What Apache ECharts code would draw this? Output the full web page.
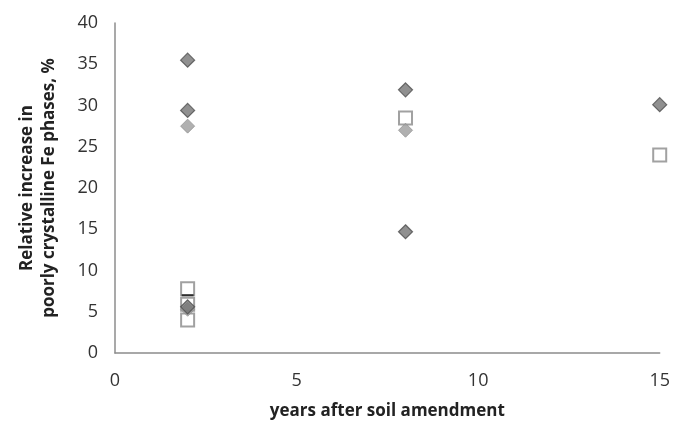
<!DOCTYPE html>
<html>
<head>
<meta charset="utf-8">
<script src="https://cdn.jsdelivr.net/npm/echarts@6/dist/echarts.min.js"></script>
<style>
  html, body { margin: 0; padding: 0; background: #fff; }
  #chart { width: 673px; height: 425px; }
</style>
</head>
<body>
<div id="chart"></div>
<script>
// data: [years, relative increase %]
var darkDiamonds = [[2, 35.5], [2, 29.4], [2, 5.6], [8, 31.9], [8, 14.7], [15, 30.1]];
var lightDiamonds = [[2, 27.5], [8, 27.0], [2, 5.3]];
var openSquares = [[2, 7.8], [2, 5.9], [2, 4.0], [8, 28.5], [15, 24.0]];
var dashes = [[2, 7.0]];

var xTicks = [0, 5, 10, 15];
var yTicks = [0, 5, 10, 15, 20, 25, 30, 35, 40];

var chart = echarts.init(document.getElementById('chart'));

var font = '"Open Sans", "Noto Sans", sans-serif';

var option = {
  animation: false,
  grid: { left: 115, right: 11, top: 23, bottom: 69 },
  xAxis: {
    type: 'value',
    min: xTicks[0],
    max: xTicks[xTicks.length - 1],
    interval: 5,
    name: 'years after soil amendment',
    nameLocation: 'middle',
    nameGap: 50,
    nameTextStyle: { fontFamily: font, fontWeight: 'bold', fontSize: 17, color: '#222' },
    axisLine: { lineStyle: { color: '#8c8c8c', width: 1.5 } },
    axisTick: { show: false },
    splitLine: { show: false },
    axisLabel: { fontFamily: font, fontSize: 18, color: '#333', margin: 19 }
  },
  yAxis: {
    type: 'value',
    min: yTicks[0],
    max: yTicks[yTicks.length - 1],
    interval: 5,
    name: 'Relative increase in\npoorly crystalline Fe phases, %',
    nameLocation: 'middle',
    nameGap: 55,
    nameTextStyle: {
      fontFamily: font, fontWeight: 'bold', fontSize: 17, color: '#222', lineHeight: 22
    },
    axisLine: { show: true, lineStyle: { color: '#8c8c8c', width: 1.5 } },
    axisTick: { show: false },
    splitLine: { show: false },
    axisLabel: { fontFamily: font, fontSize: 18, color: '#333', margin: 17 }
  },
  series: [
    {
      name: 'open squares',
      type: 'scatter',
      data: openSquares,
      symbol: 'rect',
      symbolSize: 13,
      itemStyle: { color: '#fff', borderColor: '#8a8a8a', borderWidth: 2 },
      z: 2
    },
    {
      name: 'light diamonds',
      type: 'scatter',
      data: lightDiamonds,
      symbol: 'diamond',
      symbolSize: 14,
      itemStyle: { color: '#9c9c9c', borderColor: '#949494', borderWidth: 1 },
      z: 3
    },
    {
      name: 'dark diamonds',
      type: 'scatter',
      data: darkDiamonds,
      symbol: 'diamond',
      symbolSize: 14,
      itemStyle: { color: '#747474', borderColor: '#4f4f4f', borderWidth: 1.2 },
      z: 4
    },
    {
      name: 'dash',
      type: 'scatter',
      data: dashes,
      symbol: 'rect',
      symbolSize: [12, 2],
      itemStyle: { color: '#111' },
      z: 5
    }
  ]
};

chart.setOption(option);
</script>
</body>
</html>
